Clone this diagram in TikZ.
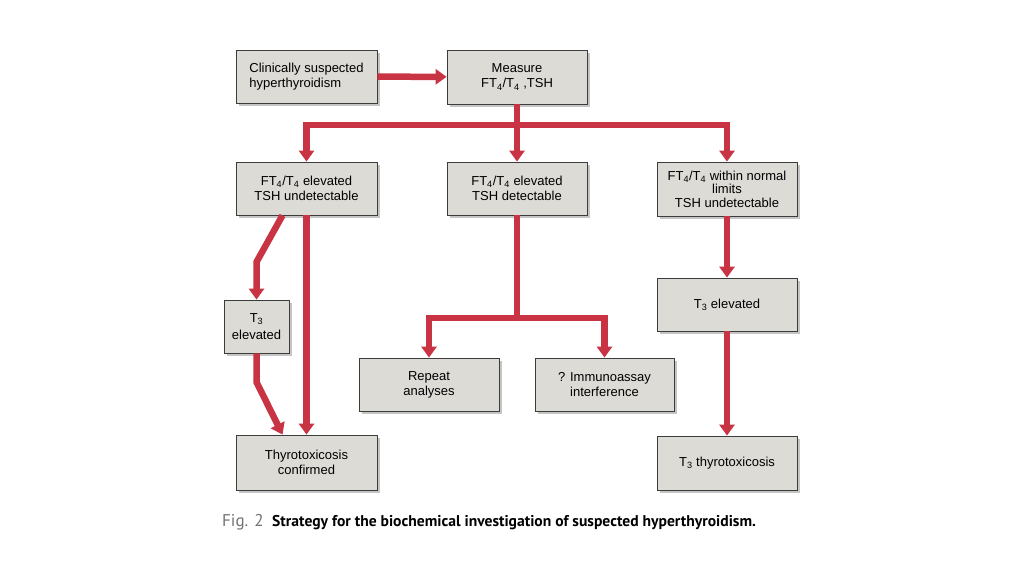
\documentclass[tikz,border=0pt]{standalone}
\usepackage{fontspec}
\setmainfont{Liberation Sans}
\newfontfamily\capfont{PT Sans}
\usetikzlibrary{arrows.meta,shadows}
\definecolor{redline}{RGB}{200,52,68}
\definecolor{boxfill}{RGB}{221,219,214}
\definecolor{boxedge}{RGB}{60,60,60}
\tikzset{
  box/.style={draw=boxedge, line width=0.8pt, fill=boxfill, rectangle,
    align=center, inner sep=2pt, font=\fontsize{13}{15}\selectfont,
    drop shadow={shadow xshift=3pt, shadow yshift=-3pt, fill=black!45, opacity=0.5}},
  link/.style={draw=redline, line width=6.5pt, line join=miter},
  arr/.style={link, -{Triangle[width=15pt,length=11pt]}},
}
\begin{document}
\begin{tikzpicture}[x=1pt,y=-1pt]
\useasboundingbox (0,0) rectangle (1024,576);
\fill[white] (0,0) rectangle (1024,576);
% boxes
\node[box, minimum width=141pt, minimum height=53pt, align=left] (A) at (306.5,76.5) {Clinically suspected\\hyperthyroidism};
\node[box, minimum width=140pt, minimum height=54pt] (B) at (517,77) {Measure\\FT\textsubscript{4}/T\textsubscript{4} ,TSH};
\node[box, minimum width=141pt, minimum height=53pt] (C) at (306.5,188.5) {FT\textsubscript{4}/T\textsubscript{4} elevated\\TSH undetectable};
\node[box, minimum width=140pt, minimum height=53pt] (D) at (517,188.5) {FT\textsubscript{4}/T\textsubscript{4} elevated\\TSH detectable};
\node[box, minimum width=140pt, minimum height=54pt, font=\fontsize{13}{13.5}\selectfont] (E) at (727,189) {FT\textsubscript{4}/T\textsubscript{4} within normal\\limits\\TSH undetectable};
\node[box, minimum width=65pt, minimum height=53pt, font=\fontsize{13}{17}\selectfont] (F) at (256.5,326.5) {T\textsubscript{3}\\elevated};
\node[box, minimum width=140pt, minimum height=53pt] (G) at (727,304.5) {T\textsubscript{3} elevated};
\node[box, minimum width=140pt, minimum height=53pt] (H) at (429,384.5) {Repeat\\analyses};
\node[box, minimum width=139pt, minimum height=53pt] (I) at (604.5,384.5) {? Immunoassay\\interference};
\node[box, minimum width=141pt, minimum height=55pt] (J) at (306.5,462.5) {Thyrotoxicosis\\confirmed};
\node[box, minimum width=140pt, minimum height=54pt] (K) at (727,463) {T\textsubscript{3} thyrotoxicosis};
% junction coordinates
\coordinate (bj) at (517,125);
\coordinate (dj) at (517,318);
\coordinate (c1) at (256.5,262);
\coordinate (f1) at (256.5,382);
% connectors
\draw[arr] (A) -- (B);
\draw[link] (B.south) -- (bj);
\draw[arr] (bj) -| (C.north);
\draw[arr] (bj) -| (E.north);
\draw[arr] (bj) -- (D.north);
\draw[arr] ([xshift=-24pt]C.south) -- (c1) -- (F.north);
\draw[arr] (C.south) -- (J.north);
\draw[arr] (F.south) -- (f1) -- ([xshift=-24pt]J.north);
\draw[link] (D.south) -- (dj);
\draw[arr] (dj) -| (H.north);
\draw[arr] (dj) -| (I.north);
\draw[arr] (E) -- (G);
\draw[arr] (G) -- (K);
% caption
\node[anchor=base west, inner sep=0pt, text=black!55, font=\capfont\fontsize{17}{20}\selectfont] (fig) at (222,526) {Fig. 2};
\node[anchor=base west, inner sep=0pt, font=\capfont\bfseries\fontsize{15.6}{18}\selectfont] (cap) at (272,526) {Strategy for the biochemical investigation of suspected hyperthyroidism.};
\end{tikzpicture}
\end{document}
